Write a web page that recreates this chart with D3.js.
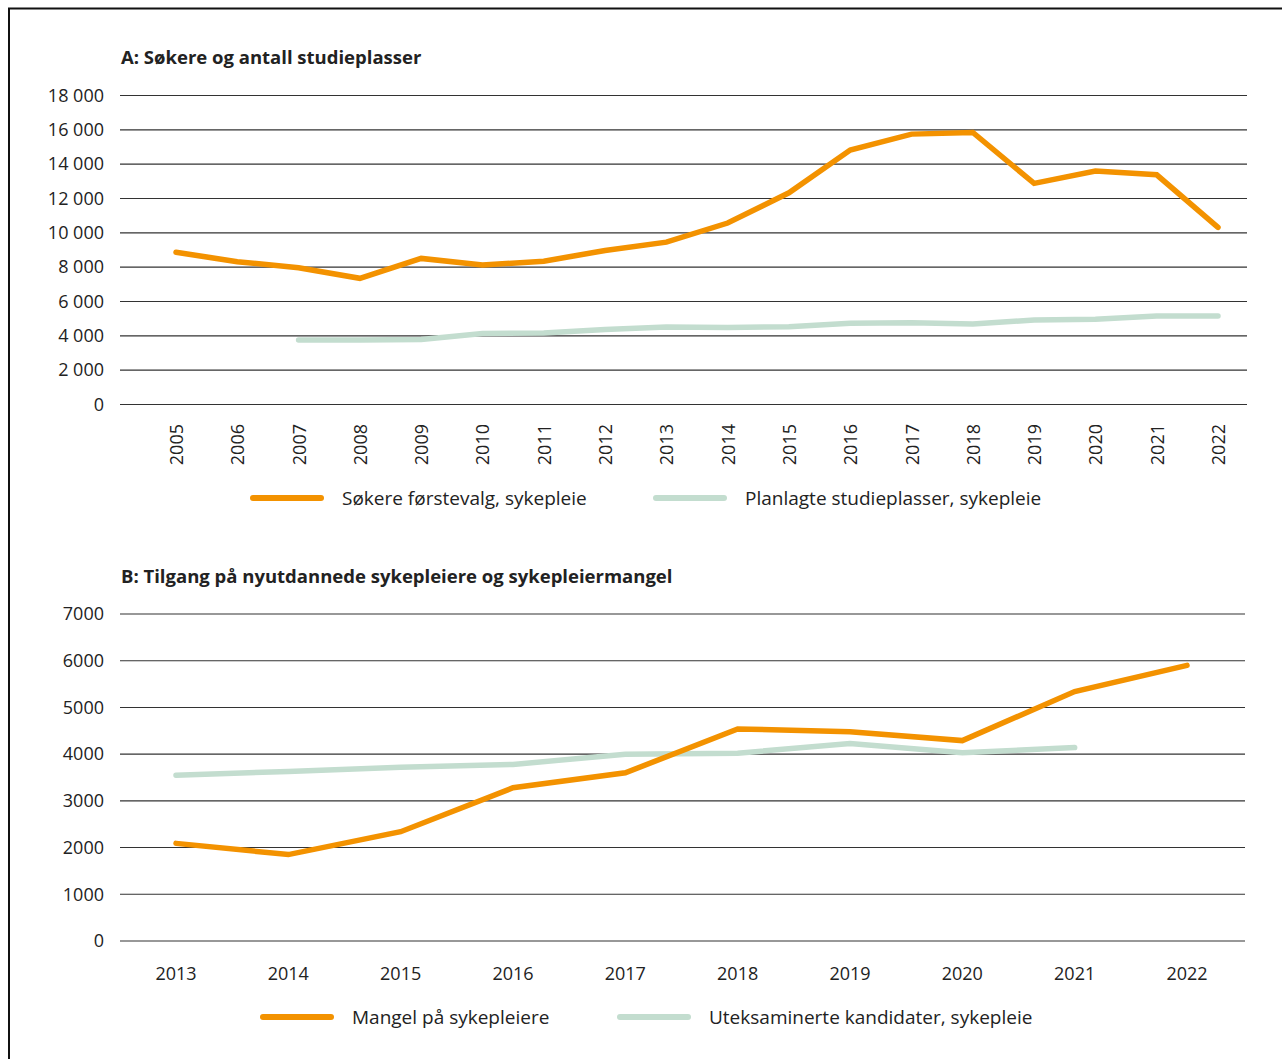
<!DOCTYPE html>
<html>
<head>
<meta charset="utf-8">
<script src="https://cdn.jsdelivr.net/npm/d3@7"></script>
<style>
  body { margin: 0; background: #fff; }
  svg { display: block; font-family: "Open Sans", "Noto Sans", sans-serif; }
</style>
</head>
<body>
<svg id="chart" width="1282" height="1059"></svg>
<script>
// panel A
const yearsA = ["2005","2006","2007","2008","2009","2010","2011","2012","2013","2014","2015","2016","2017","2018","2019","2020","2021","2022"];
const sokere = [8870, 8320, 7970, 7350, 8510, 8120, 8350, 8970, 9460, 10570, 12330, 14820, 15750, 15850, 12880, 13600, 13380, 10320];
const studieplasser = [null, null, 3760, 3760, 3790, 4130, 4170, 4370, 4520, 4480, 4530, 4730, 4760, 4690, 4920, 4960, 5150, 5150];
const ticksA = [0, 2000, 4000, 6000, 8000, 10000, 12000, 14000, 16000, 18000];

// panel B
const yearsB = ["2013","2014","2015","2016","2017","2018","2019","2020","2021","2022"];
const mangel = [2090, 1850, 2340, 3280, 3600, 4540, 4480, 4290, 5340, 5900];
const uteksaminerte = [3550, 3630, 3720, 3780, 4000, 4020, 4230, 4030, 4140, null];
const ticksB = [0, 1000, 2000, 3000, 4000, 5000, 6000, 7000];

const ORANGE = "#f39200";
const GREEN = "#c3ddcf";

const svg = d3.select("#chart");

// frame
svg.append("rect")
  .attr("x", 9).attr("y", 8.5)
  .attr("width", 1400).attr("height", 1200)
  .attr("fill", "none").attr("stroke", "#111").attr("stroke-width", 2);

const fmtA = v => v === 0 ? "0" : d3.format(",")(v).replace(",", " ");

function panel(opts) {
  const g = svg.append("g");
  const x = d3.scalePoint().domain(opts.years).range(opts.xRange);
  const y = d3.scaleLinear().domain([0, opts.max]).range(opts.yRange);

  g.append("text")
    .attr("x", 121).attr("y", opts.titleY)
    .attr("font-size", 18.5).attr("font-weight", 700).attr("fill", "#222")
    .text(opts.title);

  // gridlines + y labels
  const yAxis = d3.axisLeft(y).tickValues(opts.ticks).tickSize(0).tickFormat(opts.fmt);
  g.append("g").call(yAxis)
    .call(s => s.select(".domain").remove())
    .call(s => s.selectAll("text")
      .attr("x", -16).attr("font-size", 18).attr("fill", "#222")
      .attr("font-family", "\"Open Sans\", sans-serif"))
    .attr("transform", "translate(120,0)");

  g.append("g").selectAll("line").data(opts.ticks).join("line")
    .attr("x1", 120).attr("x2", opts.gridRight)
    .attr("y1", d => y(d)).attr("y2", d => y(d))
    .attr("stroke", "#333").attr("stroke-width", 1.1);

  // x labels
  const xl = g.append("g").selectAll("text").data(opts.years).join("text")
    .attr("font-size", 18).attr("fill", "#222")
    .text(d => d);
  if (opts.rotate) {
    xl.attr("transform", d => `translate(${x(d) + 7},${opts.xLabelY}) rotate(-90)`)
      .attr("text-anchor", "end");
  } else {
    xl.attr("x", d => x(d)).attr("y", opts.xLabelY).attr("text-anchor", "middle");
  }

  // lines
  const line = vals => d3.line()
    .defined((d, i) => vals[i] != null)
    .x((d, i) => x(opts.years[i]))
    .y((d, i) => y(vals[i]))(vals);

  opts.series.slice().reverse().forEach(s => {
    g.append("path")
      .attr("d", line(s.values))
      .attr("fill", "none")
      .attr("stroke", s.color)
      .attr("stroke-width", 5.5)
      .attr("stroke-linejoin", "miter")
      .attr("stroke-linecap", "round");
  });

  // legend
  opts.series.forEach(s => {
    g.append("line")
      .attr("x1", s.lx).attr("x2", s.lx + 68)
      .attr("y1", opts.legendY).attr("y2", opts.legendY)
      .attr("stroke", s.color).attr("stroke-width", 6).attr("stroke-linecap", "round");
    g.append("text")
      .attr("x", s.lx + 89).attr("y", opts.legendY + 6.5)
      .attr("font-size", 19).attr("fill", "#222")
      .text(s.name);
  });
}

panel({
  title: "A: Søkere og antall studieplasser",
  titleY: 64,
  years: yearsA,
  xRange: [176, 1218],
  yRange: [404.5, 95.5],
  max: 18000,
  ticks: ticksA,
  fmt: fmtA,
  gridRight: 1247,
  rotate: true,
  xLabelY: 424,
  legendY: 498,
  series: [
    { name: "Søkere førstevalg, sykepleie", values: sokere, color: ORANGE, lx: 253 },
    { name: "Planlagte studieplasser, sykepleie", values: studieplasser, color: GREEN, lx: 656 }
  ]
});

panel({
  title: "B: Tilgang på nyutdannede sykepleiere og sykepleiermangel",
  titleY: 583,
  years: yearsB,
  xRange: [176, 1187],
  yRange: [941, 614],
  max: 7000,
  ticks: ticksB,
  fmt: d3.format("d"),
  gridRight: 1245,
  rotate: false,
  xLabelY: 980,
  legendY: 1017,
  series: [
    { name: "Mangel på sykepleiere", values: mangel, color: ORANGE, lx: 263 },
    { name: "Uteksaminerte kandidater, sykepleie", values: uteksaminerte, color: GREEN, lx: 620 }
  ]
});
</script>
</body>
</html>
